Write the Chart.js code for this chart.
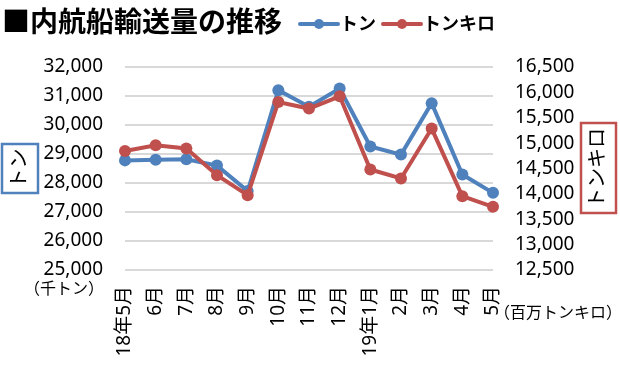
<!DOCTYPE html>
<html>
<head>
<meta charset="utf-8">
<script src="https://cdn.jsdelivr.net/npm/chart.js"></script>
<style>
  html, body { margin: 0; padding: 0; background: #fff; }
  #wrap { width: 620px; height: 366px; position: relative; }
</style>
</head>
<body>
<div id="wrap"><canvas id="line-naikou" width="620" height="366"></canvas></div>
<script>
// categories (months)
var months = ["18年5月", "6月", "7月", "8月", "9月", "10月", "11月", "12月", "19年1月", "2月", "3月", "4月", "5月"];
// tonnage (thousand tons) - left axis
var tonValues = [28780, 28800, 28820, 28600, 27720, 31200, 30630, 31260, 29260, 28980, 30750, 28290, 27660];
// ton-km (million ton-km) - right axis
var tonKmValues = [14846, 14958, 14894, 14368, 13974, 15811, 15681, 15923, 14480, 14303, 15287, 13955, 13744];

var chartTitle = "■内航船輸送量の推移";
var legendLabels = ["トン", "トンキロ"];
var leftUnit = "（千トン）";
var rightUnit = "（百万トンキロ）";

var BLUE = "#4f81bd";
var RED = "#c0504d";
var FONT = "'Noto Sans', 'Noto Sans CJK JP', sans-serif";

// draws title, legend, boxed axis titles and unit notes
var decorations = {
  id: "decorations",
  afterDraw: function(chart) {
    var ctx = chart.ctx;
    ctx.save();
    ctx.fillStyle = "#000";
    ctx.textBaseline = "middle";

    // title
    ctx.font = "bold 28px " + FONT;
    ctx.textAlign = "left";
    ctx.fillText(chartTitle, 2, 24);

    // legend
    var items = [
      { x: 300, color: BLUE, text: legendLabels[0] },
      { x: 383, color: RED, text: legendLabels[1] }
    ];
    items.forEach(function(it) {
      ctx.strokeStyle = it.color;
      ctx.lineWidth = 4;
      ctx.lineCap = "round";
      ctx.beginPath();
      ctx.moveTo(it.x, 24);
      ctx.lineTo(it.x + 38, 24);
      ctx.stroke();
      ctx.fillStyle = it.color;
      ctx.beginPath();
      ctx.arc(it.x + 19, 24, 5, 0, Math.PI * 2);
      ctx.fill();
      ctx.fillStyle = "#000";
      ctx.font = "bold 18px " + FONT;
      ctx.fillText(it.text, it.x + 40, 25);
    });

    // boxed axis titles
    ctx.lineWidth = 2.5;
    ctx.strokeStyle = BLUE;
    ctx.strokeRect(2, 144, 36, 49);
    ctx.strokeStyle = RED;
    ctx.strokeRect(581, 123, 35, 90);

    ctx.font = "20px " + FONT;
    ctx.textAlign = "center";
    ctx.save();
    ctx.translate(20, 168.5);
    ctx.rotate(-Math.PI / 2);
    ctx.fillText(legendLabels[0], 0, 0);
    ctx.restore();
    ctx.save();
    ctx.translate(598.5, 168);
    ctx.rotate(-Math.PI / 2);
    ctx.fillText(legendLabels[1], 0, 0);
    ctx.restore();

    // unit notes
    ctx.font = "16px " + FONT;
    ctx.textAlign = "right";
    ctx.fillText(leftUnit, 104, 289);
    ctx.textAlign = "left";
    ctx.fillText(rightUnit, 494, 313);
    ctx.restore();
  }
};

var ctx = document.getElementById("line-naikou");

var data = {
  labels: months,
  datasets: [
    {
      label: legendLabels[0],
      data: tonValues,
      yAxisID: "y",
      borderColor: BLUE,
      backgroundColor: BLUE,
      borderWidth: 4,
      pointRadius: 6,
      pointHoverRadius: 6,
      pointBorderWidth: 0,
      lineTension: 0,
      fill: false,
      order: 1
    },
    {
      label: legendLabels[1],
      data: tonKmValues,
      yAxisID: "y1",
      borderColor: RED,
      backgroundColor: RED,
      borderWidth: 4,
      pointRadius: 6,
      pointHoverRadius: 6,
      pointBorderWidth: 0,
      lineTension: 0,
      fill: false,
      order: 0
    }
  ]
};

var tickFont = { family: FONT, size: 19 };

var options = {
  responsive: false,
  animation: false,
  layout: { padding: { top: 67, left: 0, right: 0, bottom: 0 } },
  plugins: {
    legend: { display: false },
    title: { display: false },
    tooltip: { enabled: false }
  },
  scales: {
    x: {
      grid: { display: false, drawTicks: false },
      border: { display: false },
      ticks: {
        color: "#000",
        font: tickFont,
        minRotation: 90,
        maxRotation: 90,
        autoSkip: false,
        padding: 16
      },
      afterFit: function(scale) { scale.height = 96; }
    },
    y: {
      position: "left",
      min: 25000,
      max: 32000,
      grid: { color: "#d9d9d9", lineWidth: 2, drawTicks: false },
      border: { display: false },
      ticks: {
        stepSize: 1000,
        autoSkip: false,
        color: "#000",
        font: tickFont,
        padding: 22,
        callback: function(v) { return v.toLocaleString("en-US"); }
      },
      afterFit: function(scale) { scale.width = 125; }
    },
    y1: {
      position: "right",
      min: 12500,
      max: 16500,
      grid: { drawOnChartArea: false, drawTicks: false },
      border: { display: false },
      ticks: {
        stepSize: 500,
        autoSkip: false,
        color: "#000",
        font: tickFont,
        padding: 22,
        callback: function(v) { return v.toLocaleString("en-US"); }
      },
      afterFit: function(scale) { scale.width = 127; }
    }
  }
};

var chart = new Chart(ctx, {
  type: "line",
  data: data,
  options: options,
  plugins: [decorations]
});
</script>
</body>
</html>
